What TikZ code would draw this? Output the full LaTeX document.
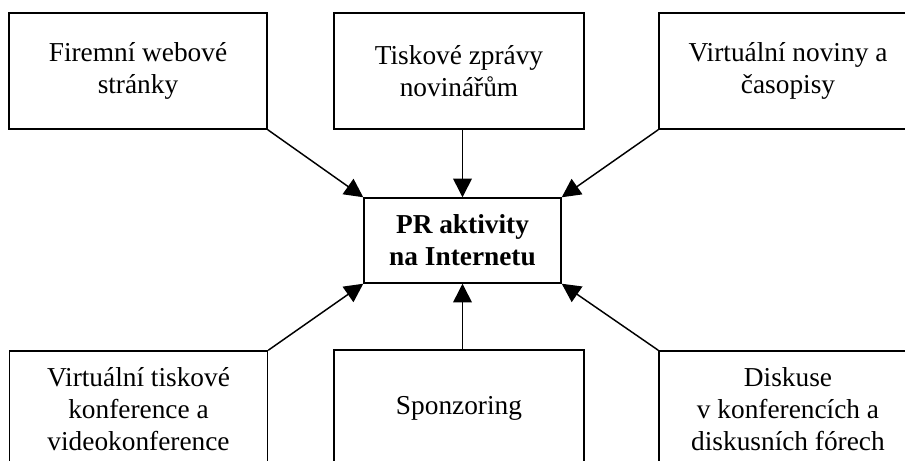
\documentclass[tikz,border=0pt]{standalone}
\usepackage{fontspec}
\setmainfont{Liberation Serif}
\usepackage{tikz}
\usetikzlibrary{arrows.meta}

\begin{document}
\begin{tikzpicture}[x=0.75pt,y=-0.75pt,
    box/.style={draw, line width=1.1pt, inner sep=0pt, align=center,
      font=\fontsize{20.5}{24}\selectfont},
    wide/.style={box, minimum width=193.5pt, minimum height=87pt},
    mid/.style={box, minimum width=187.5pt, minimum height=87pt},
    arr/.style={line width=1.1pt, -{Triangle[length=14pt,width=14pt]}}]
  \path[use as bounding box, clip] (0,0) rectangle (905,460);

  % central box
  \node[box, minimum width=147.75pt, minimum height=63.75pt,
    font=\fontsize{20.5}{24}\selectfont\bfseries] (pr) at (462.5,240.5)
    {PR aktivity\\na Internetu};

  % upper row
  \node[wide] (web) at (138,71) {Firemní webové\\stránky};
  \node[mid] (tisk) at (459,71) {Tiskové zprávy\\novinářům};
  \node[wide] (noviny) at (788,71) {Virtuální noviny a\\časopisy};

  % lower row
  \node[wide] (konf) at (138.5,409) {Virtuální tiskové\\konference a\\videokonference};
  \node[mid] (sponz) at (459,408) {Sponzoring};
  \node[wide] (disk) at (788,409) {Diskuse\\v konferencích a\\diskusních fórech};

  \draw[arr] (web.south east) -- (pr.north west);
  \draw[arr] (tisk.south -| pr.north) -- (pr.north);
  \draw[arr] (noviny.south west) -- (pr.north east);
  \draw[arr] (konf.north east) -- (pr.south west);
  \draw[arr] (sponz.north -| pr.south) -- (pr.south);
  \draw[arr] (disk.north west) -- (pr.south east);
\end{tikzpicture}
\end{document}
